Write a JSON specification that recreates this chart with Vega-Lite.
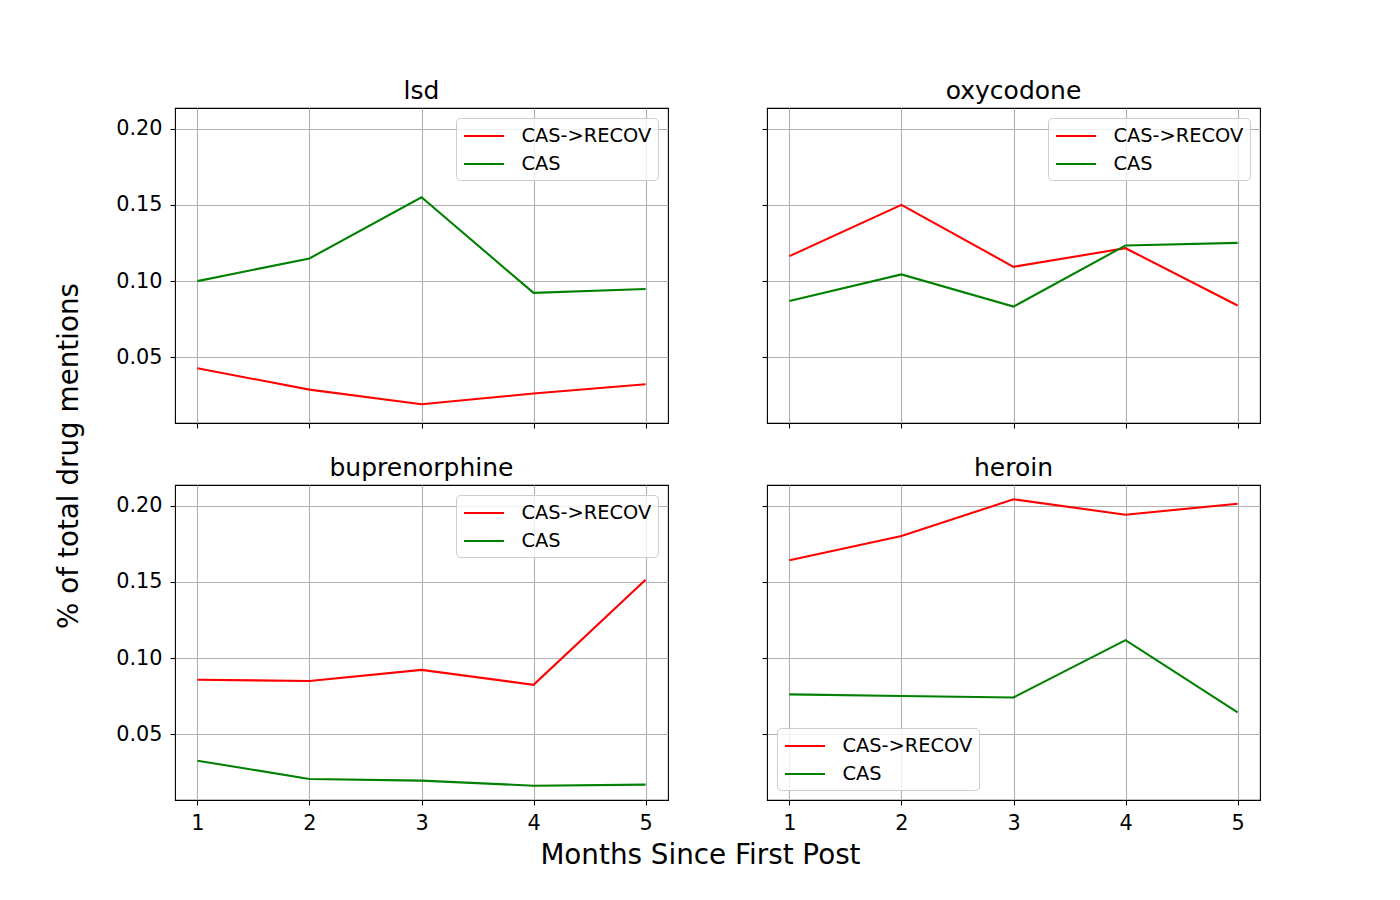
{
  "$schema": "https://vega.github.io/schema/vega-lite/v6.json",
  "padding": {"left": 56, "top": 78, "right": 0, "bottom": 0},
  "background": "white",
  "datasets": {
    "d": [
      {"drug": "lsd", "month": 1, "series": "CAS->RECOV", "value": 0.0428},
      {"drug": "lsd", "month": 2, "series": "CAS->RECOV", "value": 0.0288},
      {"drug": "lsd", "month": 3, "series": "CAS->RECOV", "value": 0.0192},
      {"drug": "lsd", "month": 4, "series": "CAS->RECOV", "value": 0.0262},
      {"drug": "lsd", "month": 5, "series": "CAS->RECOV", "value": 0.0323},
      {"drug": "lsd", "month": 1, "series": "CAS", "value": 0.1000},
      {"drug": "lsd", "month": 2, "series": "CAS", "value": 0.1149},
      {"drug": "lsd", "month": 3, "series": "CAS", "value": 0.1550},
      {"drug": "lsd", "month": 4, "series": "CAS", "value": 0.0923},
      {"drug": "lsd", "month": 5, "series": "CAS", "value": 0.0948},
      {"drug": "oxycodone", "month": 1, "series": "CAS->RECOV", "value": 0.1164},
      {"drug": "oxycodone", "month": 2, "series": "CAS->RECOV", "value": 0.1500},
      {"drug": "oxycodone", "month": 3, "series": "CAS->RECOV", "value": 0.1094},
      {"drug": "oxycodone", "month": 4, "series": "CAS->RECOV", "value": 0.1216},
      {"drug": "oxycodone", "month": 5, "series": "CAS->RECOV", "value": 0.0840},
      {"drug": "oxycodone", "month": 1, "series": "CAS", "value": 0.0869},
      {"drug": "oxycodone", "month": 2, "series": "CAS", "value": 0.1044},
      {"drug": "oxycodone", "month": 3, "series": "CAS", "value": 0.0833},
      {"drug": "oxycodone", "month": 4, "series": "CAS", "value": 0.1234},
      {"drug": "oxycodone", "month": 5, "series": "CAS", "value": 0.1251},
      {"drug": "buprenorphine", "month": 1, "series": "CAS->RECOV", "value": 0.0858},
      {"drug": "buprenorphine", "month": 2, "series": "CAS->RECOV", "value": 0.0850},
      {"drug": "buprenorphine", "month": 3, "series": "CAS->RECOV", "value": 0.0923},
      {"drug": "buprenorphine", "month": 4, "series": "CAS->RECOV", "value": 0.0825},
      {"drug": "buprenorphine", "month": 5, "series": "CAS->RECOV", "value": 0.1515},
      {"drug": "buprenorphine", "month": 1, "series": "CAS", "value": 0.0327},
      {"drug": "buprenorphine", "month": 2, "series": "CAS", "value": 0.0207},
      {"drug": "buprenorphine", "month": 3, "series": "CAS", "value": 0.0196},
      {"drug": "buprenorphine", "month": 4, "series": "CAS", "value": 0.0163},
      {"drug": "buprenorphine", "month": 5, "series": "CAS", "value": 0.0170},
      {"drug": "heroin", "month": 1, "series": "CAS->RECOV", "value": 0.1642},
      {"drug": "heroin", "month": 2, "series": "CAS->RECOV", "value": 0.1802},
      {"drug": "heroin", "month": 3, "series": "CAS->RECOV", "value": 0.2042},
      {"drug": "heroin", "month": 4, "series": "CAS->RECOV", "value": 0.1941},
      {"drug": "heroin", "month": 5, "series": "CAS->RECOV", "value": 0.2013},
      {"drug": "heroin", "month": 1, "series": "CAS", "value": 0.0762},
      {"drug": "heroin", "month": 2, "series": "CAS", "value": 0.0751},
      {"drug": "heroin", "month": 3, "series": "CAS", "value": 0.0742},
      {"drug": "heroin", "month": 4, "series": "CAS", "value": 0.1118},
      {"drug": "heroin", "month": 5, "series": "CAS", "value": 0.0644}
    ]
  },
  "title": {"text": "Months Since First Post", "orient": "bottom", "anchor": "middle", "fontSize": 27.8, "fontWeight": "normal", "font": "DejaVu Sans", "color": "black", "offset": 9, "dx": 42},
  "resolve": {"legend": {"color": "independent"}},
  "vconcat": [
    {
      "title": {"text": "% of total drug mentions", "orient": "left", "anchor": "middle", "fontSize": 27.8, "fontWeight": "normal", "font": "DejaVu Sans", "color": "black", "offset": 31},
      "resolve": {"legend": {"color": "independent"}},
      "spacing": 25,
      "vconcat": [
        {
          "spacing": 91,
          "resolve": {"legend": {"color": "independent"}},
          "hconcat": [
            {
              "title": "lsd",
              "width": 493, "height": 315,
              "data": {"name": "d"},
              "transform": [{"filter": "datum.drug === 'lsd'"}],
              "mark": {"type": "line", "strokeWidth": 2.08},
              "encoding": {
                "x": {"field": "month", "type": "quantitative", "scale": {"domain": [0.8, 5.2], "nice": false, "zero": false}, "axis": {"values": [1, 2, 3, 4, 5], "labels": false, "title": null}},
                "y": {"field": "value", "type": "quantitative", "scale": {"domain": [0.0069, 0.2136], "nice": false, "zero": false}, "axis": {"values": [0.05, 0.1, 0.15, 0.2], "format": ".2f", "title": null}},
                "color": {"field": "series", "type": "nominal", "scale": {"domain": ["CAS->RECOV", "CAS"], "range": ["#ff0000", "#008000"]}, "legend": {"orient": "top-right"}}
              }
            },
            {
              "title": "oxycodone",
              "width": 493, "height": 315,
              "data": {"name": "d"},
              "transform": [{"filter": "datum.drug === 'oxycodone'"}],
              "mark": {"type": "line", "strokeWidth": 2.08},
              "encoding": {
                "x": {"field": "month", "type": "quantitative", "scale": {"domain": [0.8, 5.2], "nice": false, "zero": false}, "axis": {"values": [1, 2, 3, 4, 5], "labels": false, "title": null}},
                "y": {"field": "value", "type": "quantitative", "scale": {"domain": [0.0069, 0.2136], "nice": false, "zero": false}, "axis": {"values": [0.05, 0.1, 0.15, 0.2], "labels": false, "title": null}},
                "color": {"field": "series", "type": "nominal", "scale": {"domain": ["CAS->RECOV", "CAS"], "range": ["#ff0000", "#008000"]}, "legend": {"orient": "top-right"}}
              }
            }
          ]
        },
        {
          "spacing": 91,
          "resolve": {"legend": {"color": "independent"}},
          "hconcat": [
            {
              "title": "buprenorphine",
              "width": 493, "height": 315,
              "data": {"name": "d"},
              "transform": [{"filter": "datum.drug === 'buprenorphine'"}],
              "mark": {"type": "line", "strokeWidth": 2.08},
              "encoding": {
                "x": {"field": "month", "type": "quantitative", "scale": {"domain": [0.8, 5.2], "nice": false, "zero": false}, "axis": {"values": [1, 2, 3, 4, 5], "format": "d", "title": null}},
                "y": {"field": "value", "type": "quantitative", "scale": {"domain": [0.0069, 0.2136], "nice": false, "zero": false}, "axis": {"values": [0.05, 0.1, 0.15, 0.2], "format": ".2f", "title": null}},
                "color": {"field": "series", "type": "nominal", "scale": {"domain": ["CAS->RECOV", "CAS"], "range": ["#ff0000", "#008000"]}, "legend": {"orient": "top-right"}}
              }
            },
            {
              "title": "heroin",
              "width": 493, "height": 315,
              "data": {"name": "d"},
              "transform": [{"filter": "datum.drug === 'heroin'"}],
              "mark": {"type": "line", "strokeWidth": 2.08},
              "encoding": {
                "x": {"field": "month", "type": "quantitative", "scale": {"domain": [0.8, 5.2], "nice": false, "zero": false}, "axis": {"values": [1, 2, 3, 4, 5], "format": "d", "title": null}},
                "y": {"field": "value", "type": "quantitative", "scale": {"domain": [0.0069, 0.2136], "nice": false, "zero": false}, "axis": {"values": [0.05, 0.1, 0.15, 0.2], "labels": false, "title": null}},
                "color": {"field": "series", "type": "nominal", "scale": {"domain": ["CAS->RECOV", "CAS"], "range": ["#ff0000", "#008000"]}, "legend": {"orient": "bottom-left"}}
              }
            }
          ]
        }
      ]
    }
  ],
  "config": {
    "font": "DejaVu Sans",
    "view": {"stroke": "black", "strokeWidth": 1.1},
    "axis": {
      "domain": false,
      "grid": true,
      "gridColor": "#b0b0b0",
      "gridWidth": 1.1,
      "gridOpacity": 1,
      "ticks": true,
      "tickColor": "black",
      "tickSize": 5,
      "tickWidth": 1.1,
      "labelFont": "DejaVu Sans",
      "labelFontSize": 20.8,
      "labelColor": "black",
      "labelPadding": 8,
      "labelFlush": false,
      "labelOverlap": false
    },
    "title": {"font": "DejaVu Sans", "fontSize": 25, "fontWeight": "normal", "color": "black", "offset": 4, "anchor": "middle"},
    "legend": {
      "title": null,
      "symbolType": "M-1,0H3",
      "symbolSize": 400,
      "symbolStrokeWidth": 2.08,
      "symbolFillColor": "transparent",
      "labelFont": "DejaVu Sans",
      "labelFontSize": 19.4,
      "labelColor": "black",
      "labelOffset": 36,
      "rowPadding": 7,
      "padding": 6.5,
      "offset": 10,
      "fillColor": "rgba(255,255,255,0.8)",
      "strokeColor": "#cccccc",
      "cornerRadius": 4
    }
  }
}
